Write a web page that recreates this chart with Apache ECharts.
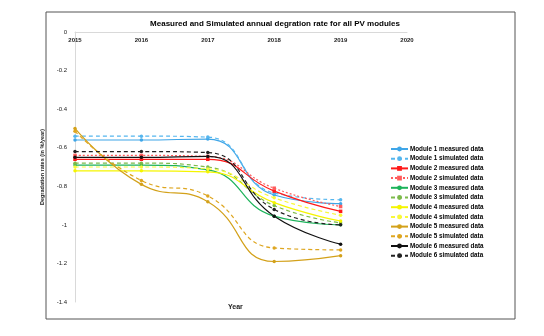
<!DOCTYPE html>
<html>
<head>
<meta charset="utf-8">
<script src="https://cdn.jsdelivr.net/npm/echarts@6/dist/echarts.min.js"></script>
<style>
html, body { margin: 0; padding: 0; background: #fff; }
#chart { width: 544px; height: 336px; }
</style>
</head>
<body>
<div id="chart"></div>
<script>
// years on the x axis
var years = [2015, 2016, 2017, 2018, 2019];
var yTicks = [0, -0.2, -0.4, -0.6, -0.8, -1, -1.2, -1.4];

// degradation rates (% / year)
var m1Measured = [-0.56, -0.56, -0.555, -0.845, -0.89];
var m1Simulated = [-0.54, -0.54, -0.545, -0.835, -0.87];
var m2Measured = [-0.66, -0.66, -0.66, -0.825, -0.93];
var m2Simulated = [-0.64, -0.64, -0.645, -0.81, -0.905];
var m3Measured = [-0.69, -0.69, -0.715, -0.955, -1.0];
var m3Simulated = [-0.68, -0.68, -0.70, -0.90, -0.99];
var m4Measured = [-0.72, -0.72, -0.725, -0.885, -0.98];
var m4Simulated = [-0.70, -0.70, -0.71, -0.86, -0.95];
var m5Measured = [-0.50, -0.79, -0.88, -1.19, -1.16];
var m5Simulated = [-0.515, -0.77, -0.85, -1.12, -1.13];
var m6Measured = [-0.65, -0.65, -0.645, -0.955, -1.10];
var m6Simulated = [-0.62, -0.62, -0.625, -0.92, -1.0];

var seriesNames = [
    'Module 1 measured data', 'Module 1 simulated data',
    'Module 2 measured data', 'Module 2 simulated data',
    'Module 3 measured data', 'Module 3 simulated data',
    'Module 4 measured data', 'Module 4 simulated data',
    'Module 5 measured data', 'Module 5 simulated data',
    'Module 6 measured data', 'Module 6 simulated data'
];
var seriesValues = [m1Measured, m1Simulated, m2Measured, m2Simulated, m3Measured, m3Simulated,
    m4Measured, m4Simulated, m5Measured, m5Simulated, m6Measured, m6Simulated];
var colors = ['#3fa6e8', '#55b6ee', '#ff1a1a', '#ff5c5c', '#1cb35a', '#7dba4a',
    '#f5f500', '#f8f83a', '#d3a11a', '#dea620', '#111111', '#222222'];
var lineTypes = ['solid', [4, 3], 'solid', [2, 2], 'solid', [4, 3],
    'solid', [4, 3], 'solid', [4, 3], 'solid', [4, 3]];

var makeSeries = function () {
    var list = [];
    for (var i = 0; i < seriesNames.length; ++i) {
        var pts = [];
        for (var j = 0; j < years.length; ++j) {
            pts.push([years[j], seriesValues[i][j]]);
        }
        list.push({
            name: seriesNames[i],
            type: 'line',
            smooth: 0.5,
            data: pts,
            symbol: (i === 2 || i === 3) ? 'rect' : 'circle',
            symbolSize: 3.5,
            itemStyle: {color: colors[i]},
            lineStyle: {color: colors[i], width: 1.2, type: lineTypes[i]},
            emphasis: {disabled: true}
        });
    }
    return list;
};

var option = {
    animation: false,
    title: {
        text: 'Measured and Simulated annual degration rate for all PV modules',
        left: 270,
        textAlign: 'center',
        top: 15,
        textStyle: {fontFamily: 'Liberation Sans', fontSize: 8, fontWeight: 'bold', color: '#000'}
    },
    legend: {
        orient: 'vertical',
        left: 385,
        top: 141,
        itemGap: 3.7,
        itemWidth: 17,
        itemHeight: 6,
        data: seriesNames,
        textStyle: {fontFamily: 'Liberation Sans', fontSize: 6.3, fontWeight: 'bold', color: '#000', padding: [0, 0, 0, -3]}
    },
    grid: {left: 75, top: 32, width: 332, height: 270},
    xAxis: {
        type: 'value',
        position: 'top',
        min: 2015,
        max: 2020,
        interval: 1,
        axisLine: {lineStyle: {color: '#d9d9d9'}},
        axisTick: {show: false},
        splitLine: {show: false},
        axisLabel: {
            inside: true,
            margin: 5,
            fontFamily: 'Liberation Sans',
            fontSize: 6,
            fontWeight: 'bold',
            color: '#222',
            formatter: function (v) {
                return String(v);
            }
        }
    },
    yAxis: {
        type: 'value',
        min: -1.4,
        max: 0,
        interval: 0.2,
        name: 'Degradation rates (in %/year)',
        nameLocation: 'middle',
        nameGap: 18,
        nameRotate: 90,
        nameTextStyle: {fontFamily: 'Liberation Sans', fontSize: 5.5, fontWeight: 'bold', color: '#222'},
        axisLine: {show: true, lineStyle: {color: '#d9d9d9'}},
        axisTick: {show: false},
        splitLine: {show: false},
        axisLabel: {
            margin: 8,
            fontFamily: 'Liberation Sans',
            fontSize: 6,
            color: '#222',
            formatter: function (v) {
                return yTicks.indexOf(Math.round(v * 10) / 10) >= 0 ? String(Math.round(v * 10) / 10) : '';
            }
        }
    },
    graphic: [
        {
            type: 'rect',
            shape: {x: 46, y: 12, width: 469, height: 307},
            style: {fill: 'none', stroke: '#555', lineWidth: 1},
            silent: true
        },
        {
            type: 'text',
            left: 228,
            top: 304,
            style: {text: 'Year', font: 'bold 7px "Liberation Sans"', fill: '#222'}
        }
    ],
    series: makeSeries()
};

var chart = echarts.init(document.getElementById('chart'));
chart.setOption(option);
</script>
</body>
</html>
